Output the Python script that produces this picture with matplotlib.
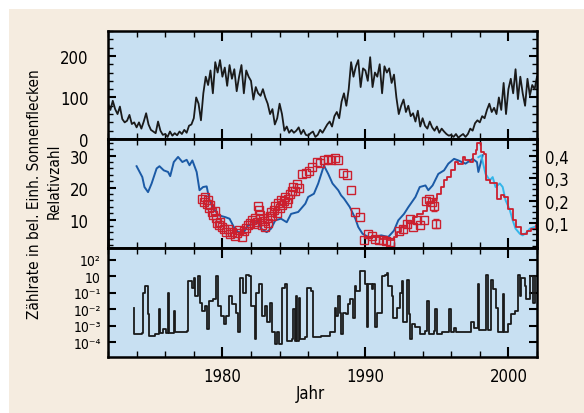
import numpy as np
import matplotlib
matplotlib.use("Agg")
import matplotlib.pyplot as plt
from matplotlib.patches import Rectangle
from matplotlib.ticker import MultipleLocator, FixedLocator, LogLocator, NullFormatter

plt.rcParams['font.family'] = ['DejaVu Sans']
plt.rcParams['font.stretch'] = 'condensed'

# --- monthly-ish sunspot number, 6 values per year from 1972.0
ssn = [85, 70, 92, 72, 60, 78,
       48, 40, 44, 58, 36, 40,
       28, 40, 25, 42, 62, 35,
       22, 18, 14, 42, 20, 10,
       12, 5, 18, 8, 14, 9,
       18, 12, 22, 15, 32, 35,
       50, 100, 85, 45, 110, 150,
       130, 165, 110, 185, 160, 190,
       150, 172, 128, 178, 145, 168,
       115, 150, 178, 110, 165, 150,
       140, 95, 125, 110, 104, 120,
       100, 85, 60, 72, 35, 50,
       85, 60, 20, 30, 15, 22,
       15, 20, 28, 12, 22, 10,
       8, 14, 18, 5, 10, 22,
       15, 25, 35, 42, 30, 55,
       65, 50, 90, 110, 80, 120,
       185, 150, 175, 190, 125, 170,
       165, 140, 197, 125, 160, 150,
       180, 110, 175, 160, 170, 135,
       155, 100, 60, 80, 95, 65,
       80, 55, 62, 42, 68, 30,
       50, 32, 25, 42, 28, 20,
       30, 15, 25, 18, 12, 8,
       10, 5, 12, 3, 8, 12,
       5, 12, 25, 20, 38, 45,
       40, 55, 50, 70, 85, 65,
       75, 60, 100, 70, 135, 60,
       120, 145, 110, 168, 96, 150,
       110, 80, 145, 105, 130, 120,
       150]
ssn_years = 1972 + np.arange(len(ssn)) / 6

# --- middle panel: blue curve
blue_t = [1974.0, 1974.4, 1974.55, 1974.8, 1975.05, 1975.4, 1975.6, 1975.9, 1976.2, 1976.35,
          1976.6, 1976.9, 1977.2, 1977.5, 1977.7, 1977.9, 1978.2, 1978.4, 1978.65, 1978.9,
          1979.1, 1979.35, 1979.7, 1980.2, 1980.5, 1980.8, 1981.1, 1981.5, 1981.8, 1982.2,
          1982.5, 1982.7, 1983.1, 1983.4, 1983.7, 1984.1, 1984.5, 1984.8, 1985.3, 1985.8,
          1986.0, 1986.4, 1986.7, 1987.1, 1987.4, 1987.7, 1988.1, 1988.3, 1988.5, 1988.9,
          1989.3, 1989.5, 1989.8, 1990.2, 1990.7, 1991.1, 1991.6, 1992.0, 1992.3, 1992.7,
          1993.0, 1993.5, 1993.8, 1994.2, 1994.4, 1994.7, 1995.1, 1995.5, 1995.8, 1996.2,
          1996.5, 1997.0, 1997.5, 1997.8, 1997.9, 1998.2]
blue_v = [26.7, 23.3, 20.2, 18.6, 21.3, 26.0, 26.7, 25.4, 24.9, 23.6,
          28.0, 29.6, 28.0, 28.7, 27.0, 28.5, 24.9, 19.2, 20.2, 20.4,
          16.0, 13.9, 11.4, 10.8, 10.3, 7.7, 6.1, 6.1, 8.2, 8.7,
          9.8, 7.2, 6.1, 7.2, 9.8, 10.3, 9.2, 11.8, 12.4, 15.0,
          17.1, 18.1, 21.3, 26.9, 24.3, 21.3, 19.2, 17.6, 16.6, 14.0,
          10.3, 7.7, 5.6, 4.6, 4.6, 5.1, 4.6, 6.6, 9.8, 11.8,
          13.9, 17.1, 20.2, 20.7, 19.2, 20.7, 24.3, 25.4, 27.5, 29.0,
          28.5, 27.5, 29.0, 28.0, 24.9, 30.1]

# --- middle panel: red curve
red_t = [1990.0, 1990.5, 1991.0, 1991.5, 1992.0, 1992.2, 1992.5, 1992.9, 1993.3, 1993.6,
         1994.0, 1994.3, 1994.7, 1995.0, 1995.3, 1995.5, 1995.7, 1996.0, 1996.3, 1996.5,
         1996.8, 1997.0, 1997.3, 1997.5, 1997.7, 1997.8, 1998.1, 1998.3, 1998.4, 1998.7,
         1999.0, 1999.2, 1999.5, 1999.7, 2000.0, 2000.3, 2000.5, 2000.9, 2001.3, 2001.6,
         2001.9, 2002.0]
red_v = [4.5, 4.6, 4.1, 3.6, 4.6, 6.1, 7.7, 9.2, 10.8, 11.8,
         12.8, 15.4, 16.6, 18.1, 20.2, 22.3, 23.3, 25.4, 28.0, 27.5,
         29.6, 28.5, 28.0, 30.6, 31.7, 33.8, 31.2, 30.6, 22.3, 21.3,
         21.3, 16.6, 17.6, 17.1, 13.4, 9.8, 7.7, 5.6, 6.6, 7.2,
         8.2, 8.6]

# --- middle panel: light blue curve
cyan_t = [1997.9, 1998.1, 1998.4, 1998.7, 1998.9, 1999.1, 1999.4, 1999.6, 1999.8, 2000.1,
          2000.3, 2000.5, 2000.8, 2001.0, 2001.3, 2001.5, 2001.8, 2002.0]
cyan_v = [29.5, 30.1, 24.3, 22.3, 23.3, 20.2, 21.3, 20.2, 16.1, 13.0,
          9.8, 7.2, 5.6, 5.1, 6.1, 7.2, 7.7, 8.1]

# --- middle panel: red squares
sq_t = [1978.6, 1978.7, 1978.8, 1978.9, 1979.0, 1979.05, 1979.15, 1979.25, 1979.35, 1979.45,
        1979.55, 1979.65, 1979.75, 1979.85, 1979.95, 1980.1, 1980.25, 1980.4, 1980.55, 1980.7,
        1980.85, 1981.0, 1981.15, 1981.37, 1981.5, 1981.65, 1981.8, 1981.95, 1982.05, 1982.2,
        1982.3, 1982.45, 1982.5, 1982.55, 1982.6, 1982.65, 1982.8, 1982.9, 1983.0, 1983.1,
        1983.2, 1983.3, 1983.4, 1983.5, 1983.6, 1983.7, 1983.8, 1983.9, 1984.0, 1984.1,
        1984.2, 1984.3, 1984.4, 1984.5, 1984.6, 1984.7, 1984.85, 1984.95, 1985.1, 1985.2,
        1985.35, 1985.6, 1985.85, 1986.05, 1986.3, 1986.6, 1986.85, 1987.1, 1987.35, 1987.6,
        1987.85, 1988.05, 1988.4, 1988.7, 1989.0, 1989.3, 1989.6, 1989.9, 1990.2, 1990.45,
        1990.7, 1990.95, 1991.2, 1991.45, 1991.7, 1992.35, 1992.6, 1992.9, 1993.1, 1993.35,
        1993.6, 1993.85, 1994.1, 1994.25, 1994.45, 1994.65]
sq_v = [16.6, 15.5, 17.2, 14.8, 16.0, 13.5, 14.5, 12.3, 11.5, 12.8,
        10.5, 9.0, 8.2, 9.3, 7.8, 7.2, 6.3, 7.0, 5.5, 6.2,
        5.0, 5.8, 6.8, 4.6, 6.5, 7.5, 8.3, 9.0, 9.8, 8.5,
        10.4, 9.2, 14.4, 12.9, 11.6, 10.2, 8.3, 9.5, 7.8, 10.5,
        9.0, 11.2, 12.5, 11.0, 13.0, 14.2, 12.0, 15.3, 13.8, 16.3,
        14.5, 15.8, 17.0, 15.2, 16.6, 18.0, 19.0, 20.2, 18.8, 21.0,
        19.8, 24.3, 24.7, 25.2, 26.5, 28.0, 27.6, 28.6, 29.0, 28.5,
        29.2, 28.6, 24.5, 24.1, 19.4, 12.4, 10.8, 3.5, 5.4, 4.8,
        4.0, 3.5, 3.8, 3.2, 3.0, 6.6, 7.2, 8.8, 10.3, 7.8,
        10.0, 8.2, 9.8, 15.8, 16.6, 15.4]
err_t = [1994.8, 1994.95]
err_v = [14.4, 8.7]
err_e = [1.6, 1.4]

# --- bottom panel: count rate, log10 of value (step curve)
rate_t = [1973.80, 1973.85, 1974.38, 1974.47, 1974.62, 1974.80, 1974.90, 1975.30, 1975.55, 1975.65,
          1975.85, 1976.05, 1976.20, 1976.30, 1976.60, 1976.70, 1977.55, 1977.62, 1977.85, 1978.00,
          1978.10, 1978.30, 1978.40, 1978.55, 1978.75, 1978.95, 1979.05, 1979.35, 1979.55, 1979.70,
          1979.90, 1980.10, 1980.25, 1980.45, 1980.70, 1980.95, 1981.10, 1981.25, 1981.45, 1981.65,
          1981.85, 1982.00, 1982.25, 1982.35, 1982.55, 1982.75, 1982.95, 1983.15, 1983.30, 1983.50,
          1983.65, 1983.85, 1983.95, 1984.15, 1984.35, 1984.50, 1984.85, 1984.95, 1985.05, 1985.15,
          1985.25, 1985.35, 1985.45, 1985.75, 1985.95, 1986.20, 1986.35, 1986.90, 1987.49, 1987.72,
          1987.84, 1987.96, 1988.08, 1988.19, 1988.31, 1988.43, 1988.66, 1988.78, 1988.90, 1989.14,
          1989.25, 1989.37, 1989.60, 1989.84, 1989.96, 1990.08, 1990.19, 1990.43, 1990.55, 1990.66,
          1990.78, 1991.14, 1991.37, 1991.49, 1991.61, 1991.84, 1991.96, 1992.19, 1992.43, 1992.55,
          1992.66, 1992.90, 1993.02, 1993.14, 1993.25, 1993.49, 1993.84, 1994.19, 1994.31, 1994.43,
          1994.78, 1994.90, 1995.02, 1995.37, 1995.84, 1995.96, 1996.19, 1996.31, 1997.37, 1997.61,
          1997.84, 1997.96, 1998.43, 1998.55, 1998.78, 1998.90, 1999.14, 1999.25, 1999.61, 1999.72,
          1999.84, 1999.96, 2000.19, 2000.43, 2000.66, 2000.78, 2000.90, 2001.14, 2001.25, 2001.49,
          2001.72, 2001.84, 2002.0]
rate_exp = [-0.9, -2.5, -2.45, 0.0, 0.4, -1.3, -2.6, -2.5, -1.0, -2.45,
            -2.2, -2.45, 0.0, -2.45, -1.1, -2.4, -2.3, 0.7, 0.3, 0.9,
            -0.2, 1.0, -0.6, -1.1, -0.8, -2.2, -0.5, -0.4, 1.0, -0.8,
            -1.4, -1.9, -1.4, -0.2, -0.7, -1.2, -2.4, 0.9, 0.0, 1.1,
            1.0, -0.8, -2.8, 0.0, 0.5, -1.4, -0.8, -1.8, -0.6, -2.4,
            -3.1, -2.4, -3.1, 0.3, 0.5, -2.9, -2.8, -1.0, -2.9, -0.2,
            -2.9, -0.3, -2.8, -2.7, 0.3, 0.1, -2.65, -2.64, -2.4, -2.35,
            -0.9, -1.4, -0.2, -1.2, -2.5, -1.2, -1.3, -0.7, -0.4, -1.5,
            0.4, 0.1, 1.3, 1.3, 0.5, -2.1, 0.5, 0.2, 0.5, -2.1,
            -1.2, 1.0, 1.1, 1.2, 0.4, -0.2, -1.5, -0.9, 0.0, 0.7,
            -1.8, 0.8, -1.3, -2.8, -1.9, -2.1, -2.5, -2.3, -0.5, -2.5,
            -2.3, -1.0, -2.5, -2.4, -1.0, -2.35, -2.15, -2.35, -1.75, -2.15,
            0.55, -2.25, 1.1, -2.25, 0.8, 0.2, -0.9, -2.35, -0.1, -2.4,
            -2.35, -1.9, -1.3, -1.1, 1.1, -0.2, 0.9, 0.4, -0.4, 1.0,
            -0.6, 1.0, 1.0]

rate_ticks = [1e2, 1e1, 1e0, 1e-1, 1e-2, 1e-3]
rate_labels = ['10²', '10', '10⁻¹', '10⁻²', '10⁻³', '10⁻⁴']

bg_axes = '#c8e0f2'
beige = '#f5ece0'
fs = 12

fig = plt.figure(figsize=(5.84, 4.14), dpi=100, facecolor='white')
fig.patches.append(Rectangle((9 / 584, 0), 1, 1 - 10 / 414, transform=fig.transFigure,
                             facecolor=beige, edgecolor='none', zorder=-10))

L, W = 108 / 584, 429 / 584
ax1 = fig.add_axes([L, 1 - 140 / 414, W, 108 / 414])
ax2 = fig.add_axes([L, 1 - 249 / 414, W, 109 / 414])
ax3 = fig.add_axes([L, 1 - 358 / 414, W, 109 / 414])

for ax in (ax1, ax2, ax3):
    ax.set_facecolor(bg_axes)
    ax.set_xlim(1972, 2002)
    ax.xaxis.set_major_locator(MultipleLocator(10))
    ax.xaxis.set_minor_locator(MultipleLocator(2))
    ax.tick_params(axis='x', which='both', direction='in', top=True, bottom=True)
    ax.tick_params(axis='x', which='major', length=7, width=1.5)
    ax.tick_params(axis='x', which='minor', length=4, width=1)
    ax.tick_params(axis='y', which='major', length=6, width=1.5, labelsize=fs)
    ax.tick_params(axis='y', which='minor', length=3.5, width=1)
    for sp in ax.spines.values():
        sp.set_linewidth(1.8)

ax1.tick_params(labelbottom=False)
ax2.tick_params(labelbottom=False)

# top panel
ax1.plot(ssn_years, ssn, color='#1a1a1a', lw=1.3)
ax1.set_ylim(0, 260)
ax1.set_yticks([0, 100, 200])
ax1.yaxis.set_minor_locator(MultipleLocator(20))
ax1.tick_params(axis='y', which='both', direction='in', right=True, pad=14)

# middle panel
ax2.plot(blue_t, blue_v, color='#1b5aa6', lw=1.4)
ax2.plot(cyan_t, cyan_v, color='#35b6ea', lw=1.4)
ax2.plot(red_t, red_v, color='#cc1f2e', lw=1.3, drawstyle='steps-post')
ax2.plot(sq_t, sq_v, ls='none', marker='s', ms=5.5, mfc='none', mec='#cc1f2e', mew=1.0)
ax2.errorbar(err_t, err_v, yerr=err_e, fmt='s', ms=5.5, mfc='none', mec='#cc1f2e',
             ecolor='#cc1f2e', elinewidth=1, capsize=2.5, mew=1.0)
ax2.set_ylim(1.15, 35.2)
ax2.set_yticks([10, 20, 30])
ax2.yaxis.set_minor_locator(MultipleLocator(2))
ax2.tick_params(axis='y', which='both', direction='in', right=False, pad=14)
ax2r = ax2.twinx()
ax2r.set_ylim(-0.01, 0.474)
ax2r.set_yticks([0.1, 0.2, 0.3, 0.4])
ax2r.set_yticklabels(['0,1', '0,2', '0,3', '0,4'])
ax2r.yaxis.set_minor_locator(MultipleLocator(0.025))
ax2r.tick_params(axis='y', which='major', direction='in', length=6, width=1.5, labelsize=fs, pad=6)
ax2r.tick_params(axis='y', which='minor', direction='in', length=3.5, width=1)
for sp in ax2r.spines.values():
    sp.set_linewidth(1.8)

# bottom panel
ax3.plot(rate_t, 10.0 ** np.array(rate_exp), color='#1a1a1a', lw=1.3, drawstyle='steps-post')
ax3.set_yscale('log')
ax3.set_ylim(10 ** -3.89, 10 ** 2.71)
ax3.yaxis.set_major_locator(FixedLocator(rate_ticks))
ax3.set_yticklabels(rate_labels)
ax3.yaxis.set_minor_locator(LogLocator(base=10, subs=np.arange(2, 10)))
ax3.yaxis.set_minor_formatter(NullFormatter())
ax3.tick_params(axis='y', which='both', direction='in', right=True, pad=5, labelsize=10)
ax3.set_xticks([1980, 1990, 2000])
ax3.tick_params(axis='x', labelsize=fs, pad=7)

fig.text(310 / 584, 1 - 394 / 414, 'Jahr', ha='center', va='center', fontsize=fs)
fig.text(35 / 584, 1 - 194 / 414, 'Zählrate in bel. Einh. Sonnenflecken', rotation=90,
         ha='center', va='center', fontsize=11)
fig.text(54 / 584, 1 - 181 / 414, 'Relativzahl', rotation=90,
         ha='center', va='center', fontsize=11)

fig.savefig('out.png', dpi=100, facecolor='white')
